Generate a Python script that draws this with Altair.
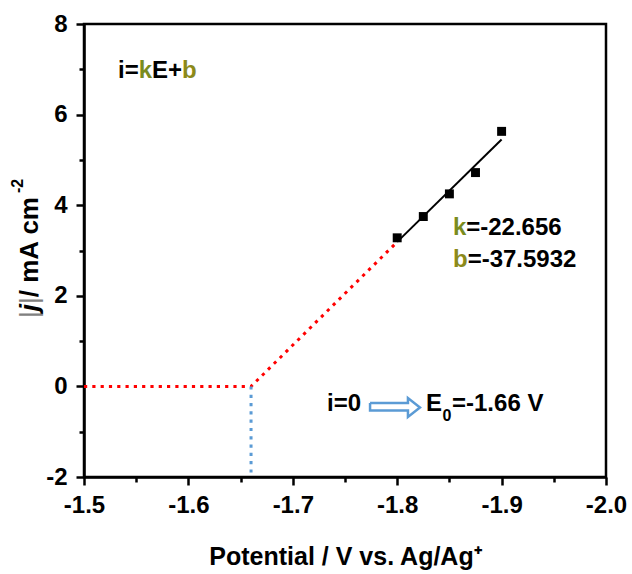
import altair as alt
import pandas as pd

# measured points
E_meas = [-1.800, -1.825, -1.850, -1.875, -1.900]
j_meas = [3.28, 3.75, 4.25, 4.72, 5.63]
# linear fit i = kE + b over the measured range
fit_E = [-1.800, -1.900]
fit_j = [3.19, 5.45]
# extrapolation down to i = 0
extrap_E = [-1.50, -1.66, -1.80]
extrap_j = [0.0, 0.0, 3.19]
drop_E = [-1.66, -1.66]
drop_j = [0.0, -2.0]
# hollow arrow outline (data units)
arrow_E = [-1.7740, -1.8103, -1.8103, -1.8218, -1.8103, -1.8103, -1.7740, -1.7740]
arrow_j = [-0.366, -0.366, -0.256, -0.466, -0.676, -0.532, -0.532, -0.366]

x_ticks = [-1.50, -1.55, -1.60, -1.65, -1.70, -1.75, -1.80, -1.85, -1.90, -1.95, -2.00]
y_ticks = [-2, -1, 0, 1, 2, 3, 4, 5, 6, 7, 8]

FONT = "Liberation Sans"
OLIVE_K = "#7A8C1E"
OLIVE_B = "#8C8A1A"
BLUE = "#5B9BD5"
RED = "#FF0000"

x_major = "abs(datum.value*10 - round(datum.value*10)) < 0.001"
x_axis = alt.Axis(
    values=x_ticks,
    labelExpr=x_major + " ? replace(format(datum.value, '.1f'), '\u2212', '-') : ''",
    tickSize={"condition": {"test": x_major, "value": 8}, "value": 5},
    labelFlush=False, labelOverlap=False, labelPadding=8,
    title="Potential / V vs. Ag/Ag\u207a", titleFontSize=25, titleFontWeight="bold",
    titleFont=FONT, titleColor="black", titlePadding=27,
)
y_major = "datum.value % 2 == 0"
y_axis = alt.Axis(
    values=y_ticks,
    labelExpr=y_major + " ? replace(format(datum.value, 'd'), '\u2212', '-') : ''",
    tickSize={"condition": {"test": y_major, "value": 8}, "value": 5},
    labelFlush=False, labelOverlap=False, labelPadding=9,
    title=None,
)
x_scale = alt.Scale(domain=[-2.0, -1.5], reverse=True, nice=False, zero=False)
y_scale = alt.Scale(domain=[-2, 8], nice=False, zero=False)

X = alt.X("E:Q", scale=x_scale, axis=x_axis)
Y = alt.Y("j:Q", scale=y_scale, axis=y_axis)

fit = alt.Chart(pd.DataFrame({"E": fit_E, "j": fit_j})).mark_line(
    color="black", strokeWidth=2).encode(x=X, y=Y)
pts = alt.Chart(pd.DataFrame({"E": E_meas, "j": j_meas})).mark_square(
    size=80, color="black", opacity=1).encode(x=X, y=Y)
extrap = alt.Chart(pd.DataFrame({"E": extrap_E, "j": extrap_j, "o": list(range(len(extrap_E)))})).mark_line(
    color=RED, strokeWidth=3, strokeDash=[3.2, 5.1]).encode(x=X, y=Y, order="o:Q")
drop = alt.Chart(pd.DataFrame({"E": drop_E, "j": drop_j, "o": [0, 1]})).mark_line(
    color=BLUE, strokeWidth=3, strokeDash=[3.2, 5.1]).encode(x=X, y=Y, order="o:Q")
arrow = alt.Chart(pd.DataFrame({"E": arrow_E, "j": arrow_j, "o": list(range(len(arrow_E)))})).mark_line(
    color=BLUE, strokeWidth=2.5, strokeJoin="miter").encode(x=X, y=Y, order="o:Q")


def label(E, j, text, color="black", dx=0, dy=0, size=24, style="normal", weight="bold"):
    return alt.Chart(pd.DataFrame({"E": [E], "j": [j], "t": [text]})).mark_text(
        align="left", baseline="alphabetic", dx=dx, dy=dy, fontSize=size, font=FONT,
        fontWeight=weight, fontStyle=style, color=color,
    ).encode(x=X, y=Y, text="t:N")


def ylabel(text, dx, xpos=-46, size=26, color="black", style="normal", weight="bold"):
    return alt.Chart(pd.DataFrame({"t": [text]})).mark_text(
        align="left", baseline="alphabetic", angle=270, dx=dx, fontSize=size,
        font=FONT, fontWeight=weight, fontStyle=style, color=color,
    ).encode(x=alt.value(xpos), y=alt.value(294), text="t:N")


texts = [
    label(-1.5326, 6.808, "i="),
    label(-1.5326, 6.808, "k", color=OLIVE_K, dx=20.7),
    label(-1.5326, 6.808, "E+", dx=34.0),
    label(-1.5326, 6.808, "b", color=OLIVE_B, dx=64.0),
    label(-1.8534, 3.342, "k", color=OLIVE_K),
    label(-1.8534, 3.342, "=-22.656", dx=13.3),
    label(-1.8534, 2.636, "b", color=OLIVE_B),
    label(-1.8534, 2.636, "=-37.5932", dx=14.7),
    label(-1.7328, -0.543, "i=0"),
    label(-1.8276, -0.543, "E"),
    label(-1.8276, -0.543, "0", dx=16.5, dy=10, size=16),
    label(-1.8276, -0.543, "=-1.66 V", dx=26),
    ylabel("|", 0, color="#808080", weight="normal"),
    ylabel("j", 6.8, style="italic"),
    ylabel("|", 14.0, color="#808080", weight="normal"),
    ylabel(" / mA cm", 20.8),
    ylabel("-2", 125, xpos=-61, size=16),
]

chart = alt.layer(fit, pts, extrap, drop, arrow, *texts).properties(
    width=522, height=453,
    autosize=alt.AutoSizeParams(type="none"),
    padding={"left": 84, "top": 24, "right": 26, "bottom": 97},
    background="white",
).configure_view(stroke="black", strokeWidth=2.5).configure_axis(
    domainColor="black", domainWidth=2.5, tickColor="black", tickWidth=2.5,
    labelFont=FONT, labelFontSize=24, labelFontWeight="bold", labelColor="black",
    grid=False,
)

chart.save("out.html", embed_options={"renderer": "svg", "actions": False})
